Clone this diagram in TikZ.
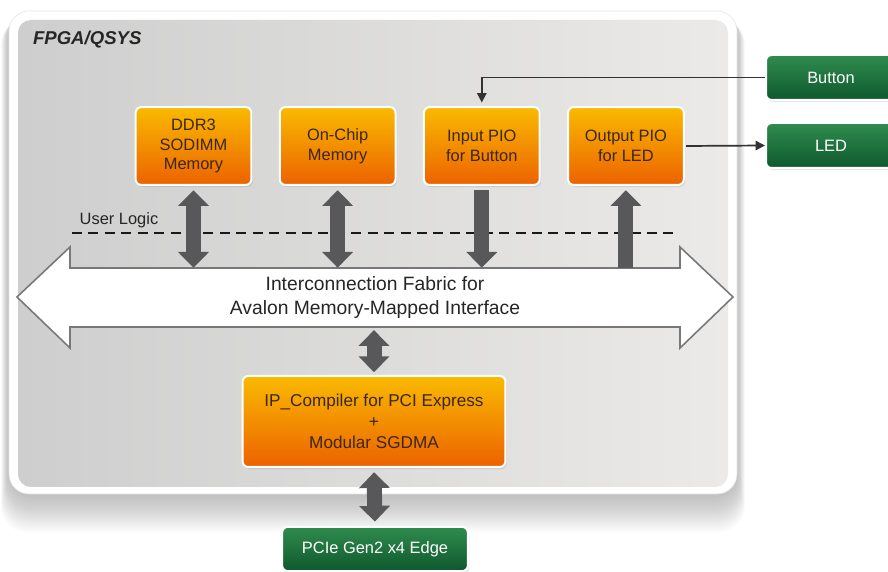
\documentclass[tikz,border=0pt]{standalone}
\usepackage{fontspec}
\setmainfont{Liberation Sans}
\usetikzlibrary{positioning, arrows.meta, shadows}
\definecolor{qsysorangetop}{RGB}{249, 186, 0}
\definecolor{qsysorangebot}{RGB}{236, 98, 0}
\definecolor{qsysgreentop}{RGB}{48, 140, 78}
\definecolor{qsysgreenbot}{RGB}{14, 88, 46}
\definecolor{qsysarrow}{RGB}{88, 88, 90}
\definecolor{qsysline}{RGB}{50, 50, 50}
\definecolor{qsystext}{RGB}{60, 38, 20}
\definecolor{panelleft}{RGB}{206, 206, 206}
\definecolor{panelright}{RGB}{235, 234, 232}
\definecolor{busedge}{RGB}{120, 120, 120}

\begin{document}
\begin{tikzpicture}[
    x=0.7pt, y=-0.7pt,
    node distance=18.5pt,
    ipbox/.style={rectangle, draw=white, line width=1.4pt, rounded corners=4pt,
                  top color=qsysorangetop, bottom color=qsysorangebot,
                  minimum width=81pt, minimum height=54.5pt, align=center,
                  text=qsystext, font=\fontsize{11.5}{13.8}\selectfont,
                  drop shadow={opacity=0.2, shadow xshift=1pt, shadow yshift=-1.5pt}},
    iobox/.style={rectangle, draw=white, line width=1.4pt, rounded corners=4pt,
                  top color=qsysgreentop, bottom color=qsysgreenbot,
                  minimum width=91pt, minimum height=31.5pt, align=center,
                  text=white, font=\fontsize{11.5}{13.8}\selectfont,
                  drop shadow={opacity=0.2, shadow xshift=1pt, shadow yshift=-1.5pt}},
    fat/.style={draw=qsysarrow, line width=10.5pt},
    fatboth/.style={fat, {Triangle[width=21pt,length=11pt]}-{Triangle[width=21pt,length=11pt]}},
    fatone/.style={fat, -{Triangle[width=21pt,length=11pt]}},
    wire/.style={draw=qsysline, line width=1.2pt, -{Triangle[width=6.5pt,length=6.5pt]}}
  ]
    \useasboundingbox (0,0) rectangle (888,572);

    % soft shadow under the frame
    \foreach \s in {1,...,24}
      \fill[black, opacity=0.011, rounded corners=18pt] (9-\s/3,11+\s/3) rectangle (737+\s/3,494+\s*1.6);
    \filldraw[fill=white, draw=gray!22, rounded corners=14pt] (9,11) rectangle (737,494);
    \shade[left color=panelleft, right color=panelright, rounded corners=9pt] (18,20) rectangle (728,487);

    \node[anchor=west, font=\fontsize{13}{15}\selectfont\bfseries\itshape, text=black!85] (fpga) at (28,40) {FPGA/QSYS};

    % memory-mapped bus
    \filldraw[fill=white, draw=busedge, line width=1.1pt]
      (17,297) -- (70,247) -- (70,268) -- (680,268) -- (680,247) -- (733,297)
      -- (680,348) -- (680,327) -- (70,327) -- (70,348) -- cycle;
    \node[minimum width=427pt, minimum height=41.3pt, inner sep=0pt, align=center,
          font=\fontsize{13.5}{16.8}\selectfont, text=black!85] (bus) at (375,297.5)
          {Interconnection Fabric for\\Avalon Memory-Mapped Interface};

    \node[font=\fontsize{11.5}{13}\selectfont, text=black!85] (ulogic) at (119,220) {User Logic};
    \draw[black!90, line width=1.5pt, dash pattern=on 7pt off 4.5pt] (72,233) -- (678,233);

    \node[ipbox] at (193.5,146) (ddr)   {DDR3\\SODIMM\\Memory};
    \node[ipbox, right=of ddr]    (chip)   {On-Chip\\Memory};
    \node[ipbox, right=of chip]   (inpio)  {Input PIO\\for Button};
    \node[ipbox, right=of inpio]  (outpio) {Output PIO\\for LED};

    \node[iobox] at (831,77.5)  (button) {Button};
    \node[iobox] at (831,145.5) (led)    {LED};

    \node[ipbox, minimum width=184pt, minimum height=63.7pt,
          font=\fontsize{12}{14.7}\selectfont] at (374,421.5) (pcip)
          {IP\_Compiler for PCI Express\\+\\Modular SGDMA};
    \node[iobox, minimum width=130pt, minimum height=31pt] at (375,549) (edge) {PCIe Gen2 x4 Edge};

    \draw[fatboth, shorten <=3pt] (ddr.south) -- (ddr.south |- bus.north);
    \draw[fatboth, shorten <=3pt] (chip.south) -- (chip.south |- bus.north);
    \draw[fatone, shorten <=3pt] (inpio.south) -- (inpio.south |- bus.north);
    \draw[fatone, shorten >=3pt] (outpio.south |- bus.north) -- (outpio.south);
    \draw[fatboth, shorten <=2pt, shorten >=2pt] (pcip.north |- bus.south) -- (pcip.north);
    \draw[fatboth, shorten <=3pt, shorten >=3pt] (pcip.south) -- (edge.north);

    \draw[wire, shorten >=2.5pt] (button.west) -| (inpio.north);
    \draw[wire, shorten <=1pt] (outpio.east) -- (led.west);
  \end{tikzpicture}
\end{document}
